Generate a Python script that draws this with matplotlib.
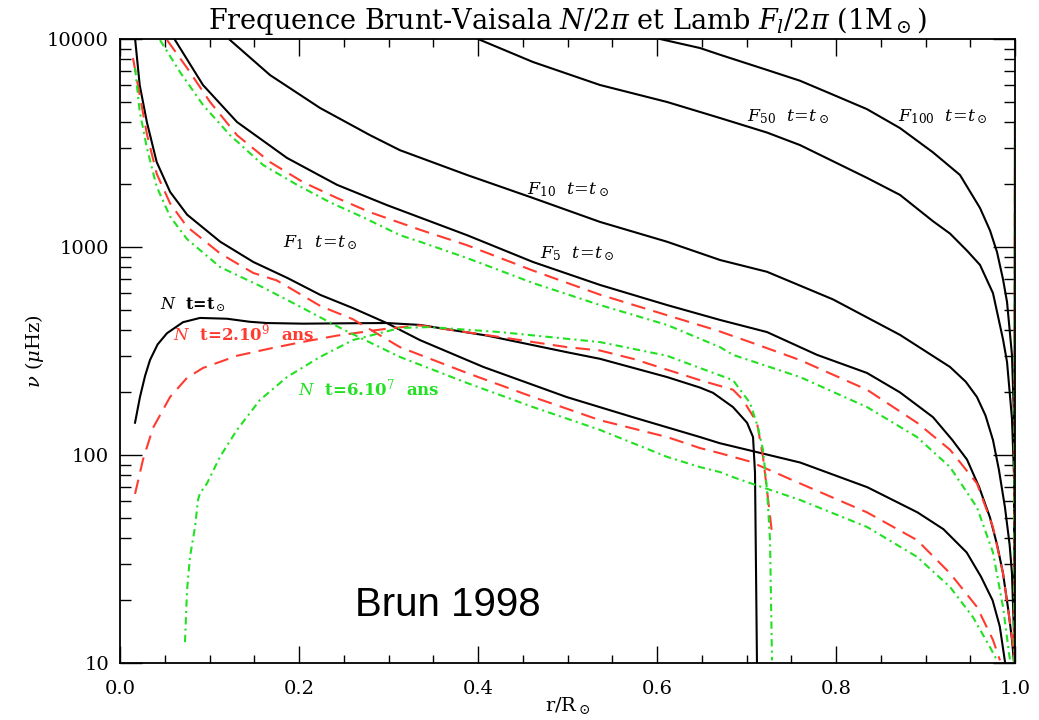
import numpy as np
import matplotlib
matplotlib.use("Agg")
import matplotlib.pyplot as plt
from matplotlib.ticker import FixedLocator, NullFormatter, LogLocator

plt.rcParams['font.family'] = ['DejaVu Serif']
plt.rcParams['mathtext.fontset'] = 'dejavuserif'

# ---------------- data (r/R_sun, frequency in microHz) ----------------
# Lamb frequencies, present Sun (black)
f1_x = [0.017, 0.022, 0.030, 0.041, 0.056, 0.075, 0.112, 0.149, 0.187, 0.224, 0.260, 0.298, 0.335,
        0.406, 0.499, 0.573, 0.648, 0.670, 0.760, 0.835, 0.891, 0.920, 0.946, 0.962, 0.975, 0.983, 0.989]
f1_v = [9890, 6010, 3990, 2560, 1840, 1430, 1060, 847, 710, 588, 509, 431, 357,
        265, 190, 152, 122, 114, 92, 70, 53, 44, 34, 26, 20, 15, 10]

f5_x = [0.0615, 0.0927, 0.1307, 0.1866, 0.2425, 0.2983, 0.3877, 0.4615, 0.5363, 0.6112, 0.6704,
        0.7229, 0.7788, 0.8346, 0.8715, 0.9084, 0.930, 0.9464, 0.960, 0.9721, 0.980, 0.9866, 0.9925,
        0.9966, 0.9989]
f5_v = [9890, 6010, 3990, 2680, 1990, 1590, 1140, 847, 657, 526, 446,
        390, 303, 248, 200, 152, 118, 95, 70, 50, 37, 27, 18,
        13, 10]

f10_x = [0.1229, 0.1676, 0.2235, 0.2793, 0.3128, 0.3877, 0.4615, 0.5363, 0.6112, 0.6704, 0.7229, 0.7966,
         0.8715, 0.9274, 0.945, 0.9575, 0.967, 0.9754, 0.982, 0.9888, 0.994, 0.9966, 1.0]
f10_v = [9890, 6710, 4660, 3450, 2920, 2220, 1720, 1320, 1060, 866, 760, 560,
         378, 265, 225, 190, 155, 118, 85, 56, 37, 27, 10]

f50_x = [0.400, 0.4615, 0.5363, 0.6112, 0.6704, 0.7229, 0.7598, 0.8346, 0.8715, 0.9084, 0.9274, 0.9464,
         0.9609, 0.9754, 0.9866, 0.9911, 0.9966, 0.9989, 1.0]
f50_v = [10000, 7750, 6010, 4980, 4170, 3550, 3090, 2150, 1780, 1330, 1160, 960,
         820, 600, 360, 280, 150, 80, 10]

f100_x = [0.6034, 0.648, 0.6704, 0.7229, 0.7598, 0.7966, 0.8346, 0.8715, 0.9084, 0.9385, 0.9609,
          0.9721, 0.9799, 0.9866, 0.9911, 0.9966, 0.9989, 1.0]
f100_v = [10000, 9050, 8400, 7100, 6300, 5400, 4600, 3730, 2850, 2220, 1540,
          1200, 946, 700, 544, 303, 150, 10]

# Lamb frequencies, t = 2e9 yr (red) and t = 6e7 yr (green)
f1r_x = [0.0145, 0.020, 0.030, 0.041, 0.056, 0.075, 0.112, 0.149, 0.1754, 0.224, 0.260, 0.3128, 0.3877,
         0.4615, 0.5363, 0.6112, 0.648, 0.6704, 0.6849, 0.7039, 0.7598, 0.8346, 0.8905, 0.9274, 0.9575,
         0.9754, 0.9832]
f1r_v = [8100, 6000, 3500, 2250, 1620, 1250, 930, 750, 690, 520, 450, 330, 248,
         190, 147, 122, 108, 102, 98, 93, 73, 53, 39, 27, 18.6,
         12.9, 10.3]

f1g_x = [0.0168, 0.022, 0.030, 0.041, 0.056, 0.075, 0.112, 0.1564, 0.200, 0.250, 0.3128, 0.3877, 0.4615,
         0.5363, 0.6112, 0.648, 0.6704, 0.6849, 0.7039, 0.7598, 0.8346, 0.8905, 0.9274, 0.9531, 0.9721,
         0.9799]
f1g_v = [7260, 4500, 3000, 1950, 1400, 1090, 800, 650, 520, 400, 296, 222, 170,
         132, 98, 87.5, 82.8, 78.3, 73.3, 60.8, 45.1, 32.4, 23.2, 16.6, 11.9,
         10.3]

f5r_x = [0.0525, 0.0749, 0.1006, 0.1307, 0.1676, 0.2045, 0.2425, 0.2793, 0.3352, 0.3877, 0.4615, 0.5363,
         0.6112, 0.667, 0.7073, 0.7598, 0.8346, 0.8905, 0.9274, 0.9575, 0.9754, 0.9866, 0.9944, 1.0]
f5r_v = [9890, 7260, 4980, 3450, 2560, 2050, 1720, 1470, 1210, 1020, 770, 590,
         470, 397, 345, 286, 206, 143, 106, 73, 45, 27, 15.6, 10.3]

f5g_x = [0.0447, 0.067, 0.0927, 0.1229, 0.1598, 0.1978, 0.2346, 0.2715, 0.3128, 0.3352, 0.3877, 0.4615,
         0.5363, 0.6112, 0.6704, 0.6849, 0.7598, 0.8346, 0.8905, 0.9274, 0.9575, 0.9754, 0.9866, 0.9944]
f5g_v = [9890, 6940, 4820, 3450, 2480, 1990, 1640, 1390, 1140, 1060, 885, 671,
         526, 422, 330, 303, 237, 170, 122, 87.5, 56, 34, 18.6, 10.3]

# Brunt-Vaisala frequencies
nb_x = [0.0168, 0.0223, 0.028, 0.0335, 0.042, 0.0525, 0.0704, 0.0894, 0.1196, 0.145, 0.164, 0.2045,
        0.2603, 0.2983, 0.3352, 0.4101, 0.4994, 0.5363, 0.6112, 0.6480, 0.6626, 0.6849, 0.7006, 0.7073,
        0.7095, 0.7117]
nb_v = [143, 190, 240, 286, 340, 385, 435, 456, 452, 437, 431, 428,
        430, 431, 422, 375, 312, 290, 237, 211, 199, 170, 143, 122,
        82, 10]

nr_x = [0.0168, 0.0257, 0.0369, 0.0559, 0.0749, 0.0927, 0.1307, 0.1676, 0.2045, 0.2425, 0.2983, 0.3352,
        0.4246, 0.4994, 0.5363, 0.5732, 0.6480, 0.6849, 0.6961, 0.7117, 0.7184, 0.7229, 0.7285]
nr_v = [65, 95, 135, 190, 235, 262, 300, 325, 350, 375, 405, 420,
        369, 330, 318, 290, 229, 206, 184, 143, 98, 68, 42]

ng_x = [0.0726, 0.0749, 0.0782, 0.0838, 0.0872, 0.0894, 0.0972, 0.1117, 0.1307, 0.1564, 0.1866, 0.2235,
        0.2603, 0.3128, 0.3460, 0.4246, 0.5363, 0.6112, 0.6480, 0.6849, 0.7039, 0.7128, 0.7184, 0.7229,
        0.7263, 0.7285]
ng_v = [12.6, 22.4, 32.4, 45, 61, 65.6, 73, 98, 132, 184, 237, 296,
        357, 408, 412, 390, 349, 300, 262, 229, 178, 136, 106, 68,
        39, 10.3]

# surface rise of N
ns_x = [0.9992, 0.9996, 1.0]
ns_v = [10, 300, 4000]

RED = '#ff3b30'
GREEN = '#22e022'

fig = plt.figure(figsize=(10.39, 7.2), dpi=100)
ax = fig.add_axes([120/1039, 1-663/720, (1015-120)/1039, (663-39)/720])

lw = 1.5
dash_r = (0, (7, 4))
dash_g = (0, (3.5, 2, 1, 2))

for xs, vs in [(f1_x, f1_v), (f5_x, f5_v), (f10_x, f10_v), (f50_x, f50_v), (f100_x, f100_v),
               (nb_x, nb_v), (ns_x, ns_v)]:
    ax.plot(xs, vs, color='black', lw=lw, solid_joinstyle='round')
for xs, vs in [(f1r_x, f1r_v), (f5r_x, f5r_v), (nr_x, nr_v), (ns_x, ns_v)]:
    ax.plot(xs, vs, color=RED, lw=lw, linestyle=dash_r)
for xs, vs in [(f1g_x, f1g_v), (f5g_x, f5g_v), (ng_x, ng_v), (ns_x, ns_v)]:
    ax.plot(xs, vs, color=GREEN, lw=lw, linestyle=dash_g)

ax.set_yscale('log')
ax.set_xlim(0, 1.0)
ax.set_ylim(10, 10000)

ax.set_xticks([0.0, 0.2, 0.4, 0.6, 0.8, 1.0])
ax.set_xticklabels(['0.0', '0.2', '0.4', '0.6', '0.8', '1.0'])
ax.xaxis.set_minor_locator(FixedLocator(np.arange(0.05, 1.0, 0.05)))
ax.yaxis.set_major_locator(FixedLocator([10, 100, 1000, 10000]))
ax.set_yticklabels(['10', '100', '1000', '10000'])
ax.yaxis.set_minor_locator(LogLocator(base=10, subs=np.arange(2, 10)))
ax.yaxis.set_minor_formatter(NullFormatter())

ax.tick_params(which='both', direction='in', top=True, right=True, width=1.0, labelsize=14)
ax.tick_params(which='major', axis='x', length=12, pad=12)
ax.tick_params(which='minor', axis='x', length=6)
ax.tick_params(which='major', axis='y', length=16, pad=8)
ax.tick_params(which='minor', axis='y', length=8)
for s in ax.spines.values():
    s.set_linewidth(1.3)

ax.set_xlabel(r'r/R$_\odot$', fontsize=14, va='center')
ax.xaxis.set_label_coords(0.5, -0.068)
ax.set_ylabel(r'$\nu$ ($\mu$Hz)', fontsize=14, va='center')
ax.yaxis.set_label_coords(-0.095, 0.5)
ax.set_title(r'Frequence Brunt-Vaisala $N/2\pi$ et Lamb $F_l/2\pi$ (1M$_\odot$)', fontsize=19.5, pad=7)

tkw = dict(va='center', ha='left')
ax.text(0.0447, 526, r'$N$  t=t$_\odot$', color='black', fontweight='bold', fontsize=11.5, **tkw)
ax.text(0.059, 386, r'$N$  t=2.10$^9$  ans', color=RED, fontweight='bold', fontsize=12, **tkw)
ax.text(0.199, 208, r'$N$  t=6.10$^7$  ans', color=GREEN, fontweight='bold', fontsize=12, **tkw)
ax.text(0.182, 1045, r'$F_1\ \ t\!=\!t_\odot$', color='black', fontsize=12.5, **tkw)
ax.text(0.469, 925, r'$F_5\ \ t\!=\!t_\odot$', color='black', fontsize=12.5, **tkw)
ax.text(0.455, 1880, r'$F_{10}\ \ t\!=\!t_\odot$', color='black', fontsize=12.5, **tkw)
ax.text(0.7006, 4217, r'$F_{50}\ \ t\!=\!t_\odot$', color='black', fontsize=12.5, **tkw)
ax.text(0.869, 4217, r'$F_{100}\ \ t\!=\!t_\odot$', color='black', fontsize=12.5, **tkw)
ax.text(0.2626, 19, 'Brun 1998', family='Liberation Sans', fontsize=29, va='center', ha='left')

fig.savefig('out.png', dpi=100)
